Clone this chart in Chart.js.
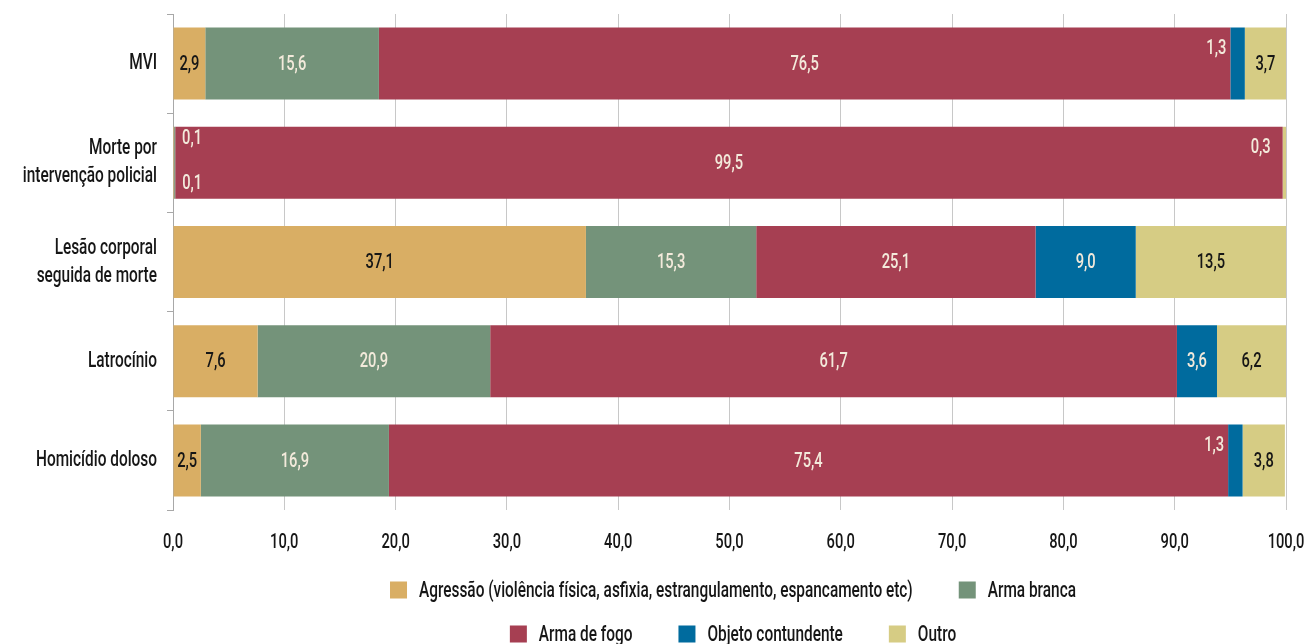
<!DOCTYPE html>
<html>
<head>
<meta charset="utf-8">
<script src="https://cdn.jsdelivr.net/npm/chart.js@4/dist/chart.umd.min.js"></script>
<style>
  html, body { margin: 0; padding: 0; background: #fff; }
  #wrap { position: relative; width: 1307px; height: 644px; }
</style>
</head>
<body>
<div id="wrap"><canvas id="chart"></canvas></div>
<script>
const FONT = "Roboto, sans-serif";
const WEIGHT = "500 ";
const SX = 0.7; // compressão horizontal do texto (fonte condensada)

// categorias (eixo Y)
const categories = [
  "MVI",
  ["Morte por", "intervenção policial"],
  ["Lesão corporal", "seguida de morte"],
  "Latrocínio",
  "Homicídio doloso"
];

// séries (%)
const seriesNames = [
  "Agressão (violência física, asfixia, estrangulamento, espancamento etc)",
  "Arma branca",
  "Arma de fogo",
  "Objeto contundente",
  "Outro"
];
const agressao   = [2.9, 0.1, 37.1, 7.6, 2.5];
const armaBranca = [15.6, 0.1, 15.3, 20.9, 16.9];
const armaFogo   = [76.5, 99.5, 25.1, 61.7, 75.4];
const objeto     = [1.3, 0, 9.0, 3.6, 1.3];
const outro      = [3.7, 0.3, 13.5, 6.2, 3.8];

const xTicks = [0, 10, 20, 30, 40, 50, 60, 70, 80, 90, 100];
const legendRows = [[0, 1], [2, 3, 4]];

const colors = ["#D9AE64", "#74937A", "#A63F52", "#006B9E", "#D6CC84"];
const darkText = [true, false, false, false, true];
const allSeries = [agressao, armaBranca, armaFogo, objeto, outro];

const TEXT = "#161616";
const LIGHT = "#F3EADB";
const fmt = v => v.toFixed(1).replace(".", ",");

function condText(ctx, txt, x, y, align) {
  ctx.save();
  ctx.translate(x, y);
  ctx.scale(SX, 1);
  ctx.textAlign = align;
  ctx.fillText(txt, 0, 0);
  ctx.restore();
}
const condWidth = (ctx, txt) => ctx.measureText(txt).width * SX;

// rótulos de valor, rótulos dos eixos e legenda
const textLayer = {
  id: "textLayer",
  afterDatasetsDraw(chart) {
    const ctx = chart.ctx;
    ctx.save();
    ctx.font = WEIGHT + "21px " + FONT;
    ctx.textBaseline = "middle";
    chart.data.datasets.forEach((ds, di) => {
      const meta = chart.getDatasetMeta(di);
      meta.data.forEach((bar, i) => {
        const v = ds.data[i];
        if (!v) return;
        const left = Math.min(bar.x, bar.base);
        const right = Math.max(bar.x, bar.base);
        const top = bar.y - bar.height / 2;
        const bottom = bar.y + bar.height / 2;
        const txt = fmt(v);
        if (v < 2) {
          // segmento estreito: rótulo fora, sobre a barra vizinha
          ctx.fillStyle = LIGHT;
          if (di === 0) condText(ctx, txt, right + 8, top + 12, "left");
          else if (di === 1) condText(ctx, txt, right + 7, bottom - 15, "left");
          else condText(ctx, txt, left - (di === 4 ? 12 : 4), top + 21, "right");
          return;
        }
        ctx.fillStyle = darkText[di] ? TEXT : LIGHT;
        condText(ctx, txt, (left + right) / 2, bar.y + 1, "center");
      });
    });
    ctx.restore();
  },
  afterDraw(chart) {
    const ctx = chart.ctx;
    const { x, y } = chart.scales;
    ctx.save();
    ctx.font = WEIGHT + "22px " + FONT;
    ctx.textBaseline = "middle";
    ctx.fillStyle = TEXT;
    // eixo Y
    categories.forEach((c, i) => {
      const lines = Array.isArray(c) ? c : [c];
      const cy = y.getPixelForValue(i);
      lines.forEach((ln, k) => {
        condText(ctx, ln, y.right - 16, cy + (k - (lines.length - 1) / 2) * 28, "right");
      });
    });
    // eixo X
    ctx.font = WEIGHT + "21px " + FONT;
    xTicks.forEach(v => {
      condText(ctx, fmt(v), x.getPixelForValue(v), chart.chartArea.bottom + 33, "center");
    });
    // legenda
    ctx.font = WEIGHT + "22px " + FONT;
    const box = 17, gapText = 12, gapItem = 46, cx = 733;
    legendRows.forEach((row, r) => {
      const widths = row.map(k => box + gapText + condWidth(ctx, seriesNames[k]));
      const total = widths.reduce((a, b) => a + b, 0) + gapItem * (row.length - 1);
      let px = cx - total / 2;
      const py = 590 + r * 44;
      row.forEach((k, j) => {
        ctx.fillStyle = colors[k];
        ctx.fillRect(px, py - box / 2, box, box);
        ctx.fillStyle = TEXT;
        condText(ctx, seriesNames[k], px + box + gapText, py + 1, "left");
        px += widths[j] + gapItem;
      });
    });
    ctx.restore();
  }
};

const chart = new Chart(document.getElementById("chart"), {
  type: "bar",
  data: {
    labels: categories,
    datasets: allSeries.map((d, k) => ({
      label: seriesNames[k],
      data: d,
      backgroundColor: colors[k],
      borderWidth: 0,
      barPercentage: 0.726,
      categoryPercentage: 1
    }))
  },
  options: {
    indexAxis: "y",
    responsive: true,
    maintainAspectRatio: false,
    animation: false,
    layout: { padding: { top: 14, right: 0, left: 0, bottom: 74 } },
    plugins: { legend: { display: false }, tooltip: { enabled: false } },
    scales: {
      x: {
        stacked: true,
        min: 0,
        max: 100,
        afterBuildTicks: s => { s.ticks = xTicks.map(v => ({ value: v })); },
        afterFit: s => { s.height = 60; s.paddingLeft = 0; s.paddingRight = 21; },
        grid: { color: "#C8C8C8", lineWidth: 1, drawTicks: false },
        border: { display: false },
        ticks: { display: false }
      },
      y: {
        stacked: true,
        afterFit: s => { s.width = 173; s.paddingTop = 0; s.paddingBottom = 0; },
        grid: { drawOnChartArea: false, color: "#A8A8A8", tickLength: 6, offset: true },
        border: { display: true, color: "#A8A8A8", width: 1 },
        ticks: { display: false }
      }
    }
  },
  plugins: [textLayer]
});
</script>
</body>
</html>
